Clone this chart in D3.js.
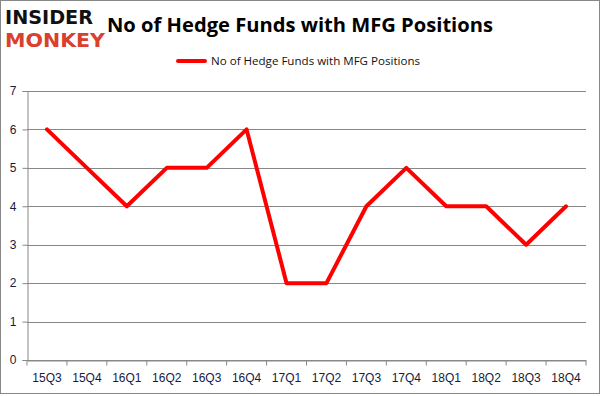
<!DOCTYPE html>
<html>
<head>
<meta charset="utf-8">
<script src="https://cdn.jsdelivr.net/npm/d3@7"></script>
<style>
  body { margin: 0; background: #fff; }
  svg { display: block; font-family: "Open Sans", "DejaVu Sans", sans-serif; }
</style>
</head>
<body>
<svg width="601" height="396"></svg>
<script>
// data
var quarters = ["15Q3","15Q4","16Q1","16Q2","16Q3","16Q4","17Q1","17Q2","17Q3","17Q4","18Q1","18Q2","18Q3","18Q4"];
var funds = [6, 5, 4, 5, 5, 6, 2, 2, 4, 5, 4, 4, 3, 4];
var yTicks = [0, 1, 2, 3, 4, 5, 6, 7];
var seriesName = "No of Hedge Funds with MFG Positions";

var svg = d3.select("svg");
var margin = {top: 91, right: 15, bottom: 36, left: 27};
var width = 601 - margin.left - margin.right,
    height = 396 - margin.top - margin.bottom;

// outer frame
svg.append("rect")
  .attr("x", 0.5).attr("y", 0.5)
  .attr("width", 599).attr("height", 393)
  .attr("fill", "none").attr("stroke", "#888");

// logo
svg.append("text")
  .attr("x", 5).attr("y", 24)
  .style("font-family", "'DejaVu Sans', sans-serif")
  .style("font-weight", "bold")
  .style("font-size", "20px")
  .attr("textLength", 88).attr("lengthAdjust", "spacingAndGlyphs")
  .attr("fill", "#111")
  .text("INSIDER");
svg.append("text")
  .attr("x", 5).attr("y", 47)
  .style("font-family", "'DejaVu Sans', sans-serif")
  .style("font-weight", "bold")
  .style("font-size", "20px")
  .attr("textLength", 100).attr("lengthAdjust", "spacingAndGlyphs")
  .attr("fill", "#d9402e")
  .text("MONKEY");

// title
svg.append("text")
  .attr("x", 300).attr("y", 32)
  .attr("text-anchor", "middle")
  .style("font-size", "20px")
  .style("font-weight", "bold")
  .attr("textLength", 386).attr("lengthAdjust", "spacingAndGlyphs")
  .text(seriesName);

// legend
svg.append("line")
  .attr("x1", 178).attr("x2", 205)
  .attr("y1", 61).attr("y2", 61)
  .attr("stroke", "#ff0000").attr("stroke-width", 4)
  .attr("stroke-linecap", "round");
svg.append("text")
  .attr("x", 211).attr("y", 65)
  .style("font-size", "11.5px")
  .attr("textLength", 209).attr("lengthAdjust", "spacingAndGlyphs")
  .attr("fill", "#111")
  .text(seriesName);

var g = svg.append("g")
  .attr("transform", "translate(" + margin.left + "," + margin.top + ")");

var x = d3.scaleBand().domain(quarters).range([0, width]);
var y = d3.scaleLinear().domain([0, 7]).range([height, 0]);

// gridlines
g.selectAll(".grid")
  .data(yTicks)
  .enter().append("line")
    .attr("x1", 0).attr("x2", width)
    .attr("y1", function(d) { return Math.round(y(d)) + 0.5; })
    .attr("y2", function(d) { return Math.round(y(d)) + 0.5; })
    .attr("stroke", "#888").attr("stroke-width", 1);

// x axis
var xAxis = g.append("g")
  .attr("transform", "translate(0," + (Math.round(height) + 0.5) + ")")
  .call(d3.axisBottom(x).tickSize(5).tickSizeOuter(0));
xAxis.select(".domain").attr("stroke", "#888");
xAxis.selectAll(".tick line")
  .attr("stroke", "#888")
  .attr("transform", "translate(" + (-x.bandwidth() / 2) + ",0)");
// last tick at the right edge
xAxis.append("line")
  .attr("x1", width).attr("x2", width)
  .attr("y1", 0).attr("y2", 5)
  .attr("stroke", "#888");
xAxis.selectAll(".tick text")
  .attr("y", 13)
  .style("font-size", "12px")
  .attr("fill", "#1a1a3a");

// y axis
var yAxis = g.append("g")
  .attr("transform", "translate(0.5,0)")
  .call(d3.axisLeft(y).tickValues(yTicks).tickSize(5).tickPadding(6).tickFormat(d3.format("d")));
yAxis.select(".domain").attr("stroke", "#888");
yAxis.selectAll(".tick line").attr("stroke", "#888");
yAxis.selectAll(".tick text")
  .style("font-size", "12px")
  .attr("fill", "#1a1a3a");

// series line
var line = d3.line()
  .x(function(d, i) { return x(quarters[i]) + x.bandwidth() / 2; })
  .y(function(d) { return y(d); });

g.append("path")
  .datum(funds)
  .attr("d", line)
  .attr("fill", "none")
  .attr("stroke", "#ff0000")
  .attr("stroke-width", 4)
  .attr("stroke-linejoin", "round")
  .attr("stroke-linecap", "round");
</script>
</body>
</html>
